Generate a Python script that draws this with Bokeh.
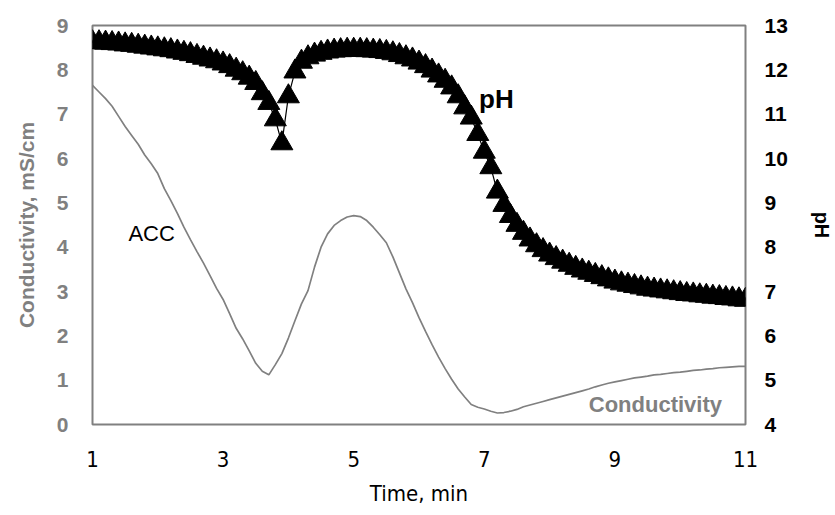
from bokeh.plotting import figure
from bokeh.models import Range1d, LinearAxis, FixedTicker, Title
from bokeh.embed import file_html
from bokeh.resources import INLINE
from bokeh.core.properties import value

# ---- data ----
time_min = [round(1.0 + 0.1 * i, 1) for i in range(101)]

conductivity = [
    7.65, 7.50, 7.35, 7.18, 6.95, 6.72, 6.52, 6.32, 6.08, 5.88,
    5.66, 5.32, 5.05, 4.76, 4.45, 4.17, 3.90, 3.64, 3.36, 3.07,
    2.82, 2.50, 2.17, 1.93, 1.66, 1.38, 1.20, 1.12, 1.35, 1.60,
    1.95, 2.34, 2.72, 3.02, 3.55, 4.00, 4.30, 4.49, 4.60, 4.68,
    4.71, 4.69, 4.60, 4.45, 4.28, 4.10, 3.78, 3.42, 3.06, 2.75,
    2.41, 2.10, 1.80, 1.52, 1.26, 1.02, 0.80, 0.62, 0.45, 0.39,
    0.35, 0.30, 0.26, 0.27, 0.30, 0.34, 0.40, 0.44, 0.48, 0.52,
    0.56, 0.60, 0.64, 0.68, 0.72, 0.76, 0.80, 0.85, 0.89, 0.93,
    0.96, 0.99, 1.02, 1.05, 1.07, 1.09, 1.12, 1.13, 1.15, 1.17,
    1.18, 1.20, 1.22, 1.23, 1.25, 1.26, 1.28, 1.29, 1.30, 1.31,
    1.31,
]

ph = [
    12.62, 12.62, 12.61, 12.60, 12.59, 12.57, 12.56, 12.54, 12.52, 12.50,
    12.48, 12.46, 12.44, 12.41, 12.38, 12.35, 12.31, 12.27, 12.23, 12.19,
    12.14, 12.08, 12.00, 11.92, 11.82, 11.70, 11.47, 11.25, 10.88, 10.34,
    11.40, 11.96, 12.18, 12.28, 12.34, 12.38, 12.41, 12.43, 12.44, 12.45,
    12.45, 12.45, 12.44, 12.43, 12.42, 12.40, 12.37, 12.33, 12.28, 12.23,
    12.16, 12.08, 11.98, 11.87, 11.75, 11.60, 11.40, 11.15, 10.92, 10.55,
    10.15, 9.80, 9.25, 8.95, 8.70, 8.50, 8.32, 8.17, 8.04, 7.93,
    7.83, 7.75, 7.67, 7.60, 7.53, 7.47, 7.42, 7.37, 7.32, 7.27,
    7.22, 7.18, 7.15, 7.12, 7.09, 7.06, 7.04, 7.02, 7.00, 6.98,
    6.96, 6.94, 6.93, 6.91, 6.90, 6.88, 6.87, 6.85, 6.84, 6.82,
    6.81,
]

x_ticks = [1, 3, 5, 7, 9, 11]
cond_ticks = list(range(0, 10))
ph_ticks = list(range(4, 14))

x_title = "Time, min"
cond_title = "Conductivity, mS/cm"
ph_title = "pH"

# ---- styling ----
GRAY = "#808080"
FONT = "Liberation Sans"
NARROW = "'DejaVu Sans Condensed', 'Liberation Sans'"

p = figure(
    width=835, height=515,
    x_range=Range1d(1, 11), y_range=Range1d(0, 9),
    output_backend="svg", toolbar_location=None,
    min_border_left=92, min_border_right=84,
    min_border_top=25, min_border_bottom=91,
)
p.extra_y_ranges = {"ph": Range1d(4, 13)}

p.xgrid.visible = False
p.ygrid.visible = False
p.outline_line_color = GRAY
p.outline_line_width = 2
p.background_fill_color = "white"
p.border_fill_color = "white"


def plain(ax):
    ax.axis_line_color = None
    ax.major_tick_line_color = None
    ax.minor_tick_line_color = None
    ax.major_tick_out = 0
    ax.major_tick_in = 0
    ax.minor_tick_out = 0
    ax.minor_tick_in = 0


# bottom axis
xa = p.xaxis[0]
xa.ticker = FixedTicker(ticks=x_ticks)
plain(xa)
xa.major_label_text_font = NARROW
xa.major_label_text_font_size = "22px"
xa.major_label_text_color = "black"
xa.major_label_standoff = 26

# x-axis title as a below title
p.add_layout(Title(text=x_title, align="center", text_font=NARROW, text_font_size="22px",
                   text_font_style="normal", text_color="black", standoff=19), "below")

# left axis
ya = p.yaxis[0]
ya.ticker = FixedTicker(ticks=cond_ticks)
ya.axis_label = cond_title
plain(ya)
ya.major_label_text_font = FONT
ya.major_label_text_font_style = "bold"
ya.major_label_text_font_size = "21px"
ya.major_label_text_color = GRAY
ya.major_label_standoff = 24
ya.axis_label_text_font = FONT
ya.axis_label_text_font_style = "bold"
ya.axis_label_text_font_size = "21px"
ya.axis_label_text_color = GRAY
ya.axis_label_standoff = 16

# right axis
ra = LinearAxis(y_range_name="ph", ticker=FixedTicker(ticks=ph_ticks), axis_label=ph_title)
plain(ra)
ra.major_label_text_font = FONT
ra.major_label_text_font_style = "bold"
ra.major_label_text_font_size = "21px"
ra.major_label_text_color = "black"
ra.major_label_standoff = 19
ra.axis_label_text_font = FONT
ra.axis_label_text_font_style = "bold"
ra.axis_label_text_font_size = "20px"
ra.axis_label_text_color = "black"
ra.axis_label_standoff = 20
p.add_layout(ra, "right")

# conductivity line
p.line(time_min, conductivity, line_color=GRAY, line_width=1.7)

# pH line + triangles
p.line(time_min, ph, y_range_name="ph", line_color="black", line_width=1.2)
p.scatter(time_min, ph, y_range_name="ph", marker="triangle", size=22,
          fill_color="black", line_color="black")

# in-plot labels
p.text(x=[6.92], y=[7.35], text=["pH"], text_font=value(FONT), text_font_style="bold",
       text_font_size="26px", text_color="black", text_baseline="middle", text_align="left")
p.text(x=[1.55], y=[4.31], text=["ACC"], text_font=value(FONT), text_font_style="normal",
       text_font_size="22px", text_color="black", text_baseline="middle", text_align="left")
p.text(x=[8.6], y=[0.45], text=["Conductivity"], text_font=value(FONT), text_font_style="bold",
       text_font_size="22px", text_color=GRAY, text_baseline="middle", text_align="left")

open("out.html", "w").write(file_html(p, INLINE))
